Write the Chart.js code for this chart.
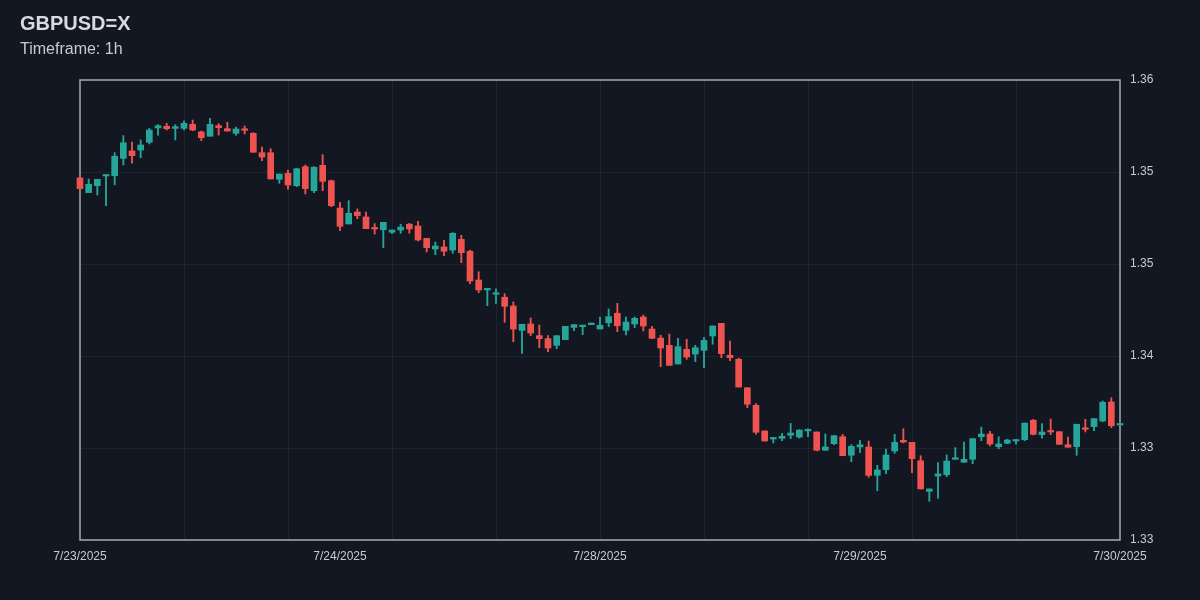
<!DOCTYPE html>
<html>
<head>
<meta charset="utf-8">
<script src="https://cdn.jsdelivr.net/npm/chart.js@4.4.1/dist/chart.umd.min.js"></script>
<style>
  html, body { margin: 0; padding: 0; background: #131722; }
  #wrap { position: relative; width: 1200px; height: 600px; background: #131722; overflow: hidden; }
  #title { position: absolute; left: 20px; top: 12px; font: bold 20px "Liberation Sans", Arial, sans-serif; color: #d9dadf; line-height: 22px; white-space: nowrap; }
  #sub { position: absolute; left: 20px; top: 40px; font: 16px "Liberation Sans", Arial, sans-serif; color: #c9cacf; line-height: 18px; white-space: nowrap; }
  canvas { position: absolute; left: 0; top: 0; }
</style>
</head>
<body>
<div id="wrap">
  <canvas id="c" width="1200" height="600"></canvas>
  <div id="title">GBPUSD=X</div>
  <div id="sub">Timeframe: 1h</div>
</div>
<script>
const opens = [1.35290,1.35191,1.35238,1.35303,1.35305,1.35422,1.35472,1.35478,1.35530,1.35627,
1.35638,1.35624,1.35624,1.35651,1.35600,1.35571,1.35642,1.35622,1.35591,1.35620,
1.35591,1.35460,1.35460,1.35281,1.35321,1.35238,1.35366,1.35204,1.35375,1.35271,
1.35087,1.34980,1.35060,1.35027,1.34955,1.34941,1.34924,1.34939,1.34978,1.34966,
1.34883,1.34811,1.34825,1.34804,1.34876,1.34796,1.34602,1.34535,1.34506,1.34486,
1.34427,1.34263,1.34306,1.34227,1.34207,1.34162,1.34200,1.34283,1.34288,1.34301,
1.34272,1.34314,1.34378,1.34263,1.34306,1.34353,1.34272,1.34211,1.34162,1.34036,
1.34135,1.34103,1.34128,1.34225,1.34310,1.34095,1.34068,1.33876,1.33758,1.33585,
1.33531,1.33535,1.33556,1.33544,1.33585,1.33578,1.33455,1.33499,1.33546,1.33421,
1.33477,1.33477,1.33286,1.33324,1.33450,1.33522,1.33508,1.33384,1.33178,1.33281,
1.33290,1.33394,1.33374,1.33394,1.33546,1.33564,1.33479,1.33502,1.33517,1.33526,
1.33657,1.33560,1.33585,1.33580,1.33492,1.33479,1.33603,1.33614,1.33652,1.33780,
1.33625];
const highs = [1.35296,1.35283,1.35281,1.35310,1.35460,1.35575,1.35532,1.35546,1.35624,1.35649,
1.35658,1.35649,1.35674,1.35680,1.35606,1.35692,1.35656,1.35665,1.35633,1.35640,
1.35595,1.35498,1.35487,1.35316,1.35343,1.35355,1.35377,1.35366,1.35447,1.35276,
1.35126,1.35137,1.35081,1.35060,1.34982,1.34991,1.34939,1.34978,1.34984,1.34998,
1.34883,1.34858,1.34870,1.34921,1.34903,1.34804,1.34658,1.34546,1.34542,1.34510,
1.34454,1.34304,1.34346,1.34299,1.34227,1.34227,1.34290,1.34301,1.34297,1.34312,
1.34353,1.34407,1.34445,1.34353,1.34353,1.34366,1.34290,1.34230,1.34238,1.34209,
1.34203,1.34162,1.34216,1.34292,1.34310,1.34191,1.34075,1.33876,1.33769,1.33585,
1.33537,1.33569,1.33636,1.33593,1.33600,1.33578,1.33564,1.33556,1.33562,1.33492,
1.33522,1.33517,1.33353,1.33463,1.33562,1.33600,1.33508,1.33418,1.33194,1.33371,
1.33423,1.33472,1.33510,1.33533,1.33610,1.33583,1.33546,1.33529,1.33526,1.33638,
1.33663,1.33634,1.33665,1.33580,1.33544,1.33630,1.33663,1.33668,1.33787,1.33809,
1.33634];
const lows = [1.35212,1.35191,1.35175,1.35103,1.35244,1.35377,1.35389,1.35426,1.35519,1.35579,
1.35613,1.35546,1.35613,1.35608,1.35541,1.35571,1.35579,1.35606,1.35579,1.35586,
1.35463,1.35406,1.35283,1.35254,1.35215,1.35231,1.35182,1.35191,1.35204,1.35096,
1.34934,1.34980,1.35015,1.34948,1.34912,1.34820,1.34914,1.34917,1.34917,1.34865,
1.34791,1.34773,1.34766,1.34782,1.34719,1.34577,1.34517,1.34429,1.34445,1.34317,
1.34186,1.34108,1.34227,1.34146,1.34119,1.34139,1.34200,1.34260,1.34234,1.34301,
1.34272,1.34288,1.34254,1.34232,1.34281,1.34259,1.34209,1.34018,1.34027,1.34036,
1.34068,1.34052,1.34011,1.34169,1.34079,1.34058,1.33881,1.33742,1.33564,1.33517,
1.33504,1.33519,1.33533,1.33537,1.33546,1.33450,1.33455,1.33492,1.33418,1.33378,
1.33441,1.33273,1.33182,1.33297,1.33434,1.33504,1.33304,1.33194,1.33111,1.33131,
1.33277,1.33394,1.33374,1.33364,1.33519,1.33484,1.33465,1.33499,1.33495,1.33519,
1.33558,1.33537,1.33560,1.33495,1.33475,1.33421,1.33578,1.33587,1.33647,1.33607,
1.33625];
const closes = [1.35218,1.35247,1.35281,1.35310,1.35436,1.35527,1.35440,1.35512,1.35613,1.35642,
1.35622,1.35635,1.35658,1.35613,1.35561,1.35651,1.35629,1.35606,1.35620,1.35611,
1.35463,1.35431,1.35283,1.35316,1.35242,1.35352,1.35218,1.35362,1.35267,1.35103,
1.34964,1.35052,1.35036,1.34948,1.34946,1.34991,1.34939,1.34959,1.34946,1.34872,
1.34820,1.34831,1.34796,1.34917,1.34786,1.34595,1.34535,1.34546,1.34513,1.34425,
1.34272,1.34304,1.34245,1.34207,1.34144,1.34227,1.34290,1.34301,1.34297,1.34312,
1.34297,1.34355,1.34294,1.34319,1.34344,1.34292,1.34209,1.34144,1.34027,1.34153,
1.34083,1.34146,1.34196,1.34292,1.34106,1.34079,1.33881,1.33765,1.33576,1.33517,
1.33537,1.33549,1.33571,1.33591,1.33593,1.33455,1.33477,1.33553,1.33418,1.33481,
1.33492,1.33286,1.33322,1.33423,1.33508,1.33510,1.33398,1.33194,1.33194,1.33295,
1.33382,1.33401,1.33394,1.33533,1.33564,1.33497,1.33497,1.33524,1.33526,1.33638,
1.33562,1.33578,1.33578,1.33495,1.33475,1.33630,1.33596,1.33668,1.33778,1.33620,
1.33634];
const dateTicks = ['7/23/2025','7/24/2025','7/28/2025','7/29/2025','7/30/2025'];
const yTicks = [1.3285, 1.3347, 1.3409, 1.3471, 1.3533, 1.3595];
const yMin = 1.3285, yMax = 1.3595;

const UP = '#26a69a', DOWN = '#ef5350';
const GRID = 'rgba(255,255,255,0.055)';
const labels = opens.map((_, i) => i);
const colors = opens.map((o, i) => closes[i] >= o ? UP : DOWN);
const labelEvery = (labels.length - 1) / (dateTicks.length - 1);
const gridEvery = (labels.length - 1) / 10;

const frame = {
  id: 'frame',
  beforeDraw(chart) {
    const ctx = chart.ctx;
    ctx.save();
    ctx.fillStyle = '#131722';
    ctx.fillRect(0, 0, chart.width, chart.height);
    ctx.restore();
  },
  beforeDatasetsDraw(chart) {
    const a = chart.chartArea, ctx = chart.ctx;
    ctx.save();
    ctx.strokeStyle = '#9c9fa6';
    ctx.lineWidth = 1.6;
    ctx.strokeRect(a.left, a.top, a.right - a.left, a.bottom - a.top);
    ctx.restore();
  }
};

new Chart(document.getElementById('c'), {
  type: 'bar',
  data: {
    labels: labels,
    datasets: [
      {
        label: 'wick',
        data: lows.map((l, i) => [l, highs[i]]),
        backgroundColor: colors,
        barThickness: 1.2,
        grouped: false,
        clip: false,
        order: 2
      },
      {
        label: 'body',
        data: opens.map((o, i) => [Math.min(o, closes[i]), Math.max(o, closes[i])]),
        backgroundColor: colors,
        barThickness: 6,
        minBarLength: 1.5,
        grouped: false,
        clip: false,
        order: 1
      }
    ]
  },
  options: {
    responsive: false,
    animation: false,
    layout: { padding: { left: 80, top: 80, right: 0, bottom: 0 } },
    plugins: { legend: { display: false }, tooltip: { enabled: false }, title: { display: false } },
    scales: {
      x: {
        type: 'category',
        offset: false,
        border: { display: false },
        grid: {
          offset: false,
          drawTicks: false,
          color: ctx => (ctx.index % gridEvery === 0 ? GRID : 'rgba(0,0,0,0)')
        },
        ticks: {
          autoSkip: false,
          maxRotation: 0,
          minRotation: 0,
          padding: 9,
          color: '#c8cad0',
          font: { family: '"Liberation Sans", Arial, sans-serif', size: 12 },
          callback: (v, i) => (i % labelEvery === 0 ? dateTicks[i / labelEvery] : '')
        },
        afterFit: s => { s.height = 60; }
      },
      y: {
        position: 'right',
        min: yMin,
        max: yMax,
        border: { display: false },
        afterBuildTicks: s => { s.ticks = yTicks.map(v => ({ value: v })); },
        grid: { drawTicks: false, color: GRID },
        ticks: {
          padding: 10,
          color: '#c8cad0',
          font: { family: '"Liberation Sans", Arial, sans-serif', size: 12 },
          callback: v => Number(v).toFixed(2)
        },
        afterFit: s => { s.width = 80; }
      }
    }
  },
  plugins: [frame]
});
</script>
</body>
</html>
